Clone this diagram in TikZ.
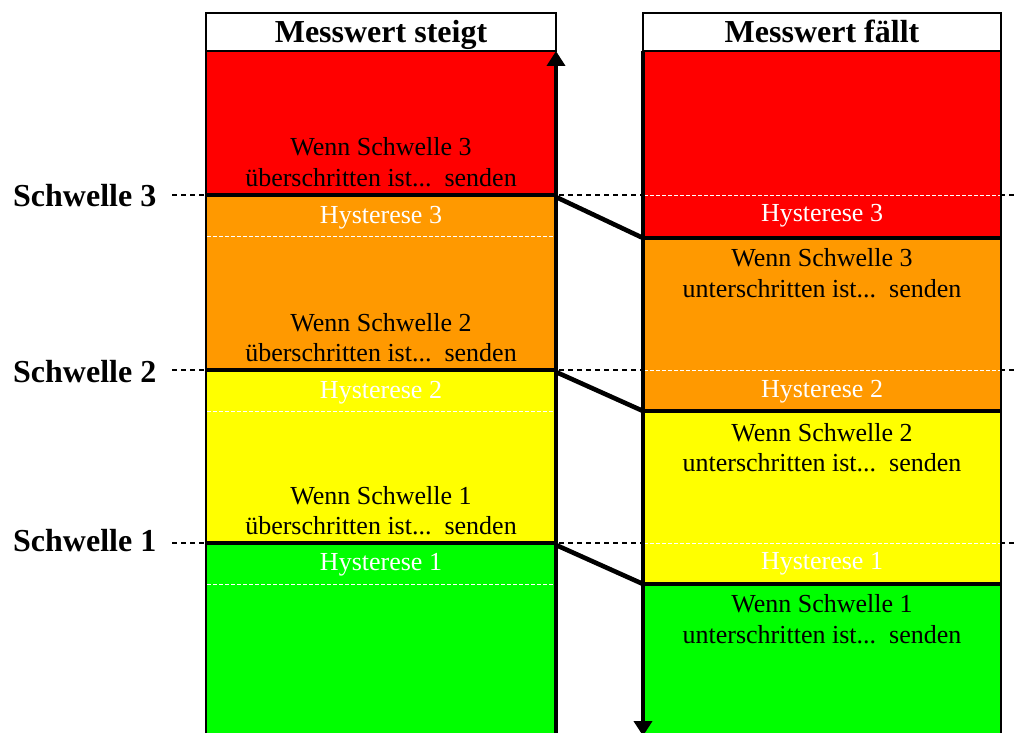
\documentclass[tikz,border=0pt]{standalone}
\usepackage{fontspec}
\setmainfont{Liberation Serif}
\usetikzlibrary{arrows.meta}
\definecolor{cred}{HTML}{FF0000}
\definecolor{corange}{HTML}{FF9900}
\definecolor{cyellow}{HTML}{FFFF00}
\definecolor{cgreen}{HTML}{00FF00}
\begin{document}
\begin{tikzpicture}[x=1pt,y=-1pt,
  body/.style={font=\fontsize{26}{31}\selectfont, anchor=base, inner sep=0pt},
  hyst/.style={body, text=white},
  head/.style={font=\bfseries\fontsize{32}{38}\selectfont, anchor=base, inner sep=0pt},
  thr/.style={font=\bfseries\fontsize{32}{38}\selectfont, anchor=base west, inner sep=0pt},
  bandline/.style={line width=4.6pt},
  thrdash/.style={black, line width=1.4pt, dash pattern=on 5pt off 4pt},
  celldash/.style={white, line width=0.9pt, dash pattern=on 4pt off 2pt},
  edge/.style={line width=2.4pt},
  flow/.style={line width=4.6pt, -{Triangle[length=15pt,width=18pt]}},
  diag/.style={line width=4.6pt},
]
\useasboundingbox (0,0) rectangle (1015,733);

% threshold dashed lines (behind)
\draw[thrdash] (172,195) -- (1015,195);
\draw[thrdash] (172,370) -- (1015,370);
\draw[thrdash] (172,543) -- (1015,543);

% left column fills
\fill[cred]    (206,51)  rectangle (556,195);
\fill[corange] (206,195) rectangle (556,370);
\fill[cyellow] (206,370) rectangle (556,543);
\fill[cgreen]  (206,543) rectangle (556,740);
% right column fills
\fill[cred]    (643,51)  rectangle (1001,238);
\fill[corange] (643,238) rectangle (1001,411);
\fill[cyellow] (643,411) rectangle (1001,584);
\fill[cgreen]  (643,584) rectangle (1001,740);

% headers
\draw[edge, fill=white] (206,13) rectangle (556,51);
\draw[edge, fill=white] (643,13) rectangle (1001,51);
\node[head] (hL) at (381,43) {Messwert steigt};
\node[head] (hR) at (822,43) {Messwert fällt};

% outer edges
\draw[edge] (206,51) -- (206,740);
\draw[edge] (1001,51) -- (1001,740);

% white dashed cell lines
\draw[celldash] (207,236) -- (555,236);
\draw[celldash] (207,411) -- (555,411);
\draw[celldash] (207,584) -- (555,584);
\draw[celldash] (644,195) -- (1000,195);
\draw[celldash] (644,370) -- (1000,370);
\draw[celldash] (644,543) -- (1000,543);

% thick band lines
\draw[bandline] (206,195) -- (556,195);
\draw[bandline] (206,370) -- (556,370);
\draw[bandline] (206,543) -- (556,543);
\draw[bandline] (643,238) -- (1001,238);
\draw[bandline] (643,411) -- (1001,411);
\draw[bandline] (643,584) -- (1001,584);

% connectors
\coordinate (upS) at (556,740);
\coordinate (upE) at (556,51);
\coordinate (dnS) at (643,51);
\coordinate (dnE) at (643,736);
\draw[flow] (upS) -- (upE);
\draw[flow] (dnS) -- (dnE);

\coordinate (a3) at (556,197);
\coordinate (b3) at (643,238);
\coordinate (a2) at (556,372);
\coordinate (b2) at (643,411);
\coordinate (a1) at (556,545);
\coordinate (b1) at (643,584);
\draw[diag] (a3) -- (b3);
\draw[diag] (a2) -- (b2);
\draw[diag] (a1) -- (b1);

% threshold labels
\node[thr] (s3) at (13,207) {Schwelle 3};
\node[thr] (s2) at (13,382) {Schwelle 2};
\node[thr] (s1) at (13,551) {Schwelle 1};

% left texts
\node[body] (lw3) at (381,156) {Wenn Schwelle 3};
\node[body] (lu3) at (381,186) {überschritten ist...\ \ senden};
\node[hyst] (lh3) at (381,223) {Hysterese 3};
\node[body] (lw2) at (381,331) {Wenn Schwelle 2};
\node[body] (lu2) at (381,361) {überschritten ist...\ \ senden};
\node[hyst] (lh2) at (381,398) {Hysterese 2};
\node[body] (lw1) at (381,504) {Wenn Schwelle 1};
\node[body] (lu1) at (381,534) {überschritten ist...\ \ senden};
\node[hyst] (lh1) at (381,570) {Hysterese 1};

% right texts
\node[hyst] (rh3) at (822,222) {Hysterese 3};
\node[body] (rw3) at (822,266) {Wenn Schwelle 3};
\node[body] (ru3) at (822,297) {unterschritten ist...\ \ senden};
\node[hyst] (rh2) at (822,397) {Hysterese 2};
\node[body] (rw2) at (822,441) {Wenn Schwelle 2};
\node[body] (ru2) at (822,471) {unterschritten ist...\ \ senden};
\node[hyst] (rh1) at (822,569) {Hysterese 1};
\node[body] (rw1) at (822,612) {Wenn Schwelle 1};
\node[body] (ru1) at (822,643) {unterschritten ist...\ \ senden};
\end{tikzpicture}
\end{document}
